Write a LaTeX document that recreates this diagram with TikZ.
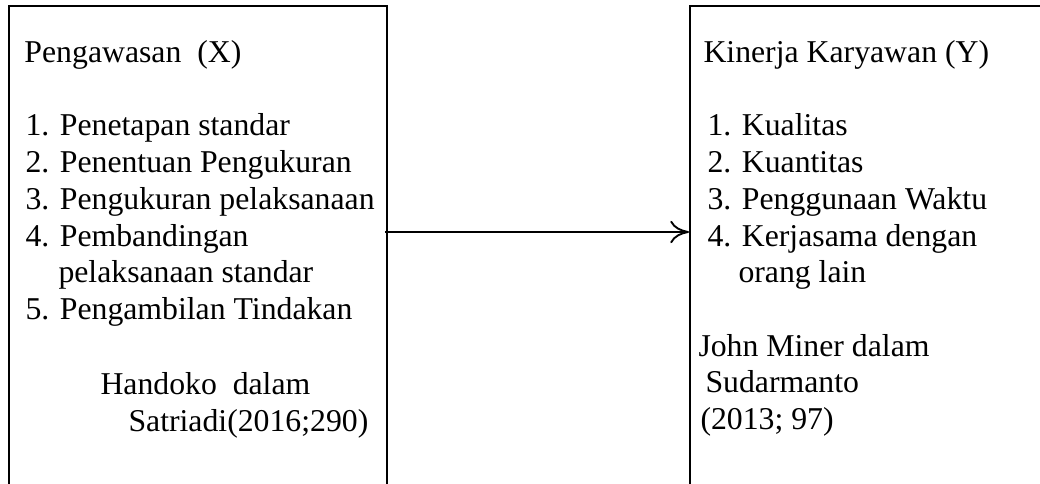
\documentclass[tikz,border=0pt]{standalone}
\usepackage{fontspec}
\setmainfont{Liberation Serif}
\usetikzlibrary{arrows.meta}
\tikzset{
  txt/.style={anchor=base west, inner sep=0pt, font=\fontsize{12.7}{15}\selectfont},
  boxline/.style={line width=0.85pt},
  conn/.style={line width=0.75pt, -{To[length=7.5pt, width=9pt, line width=0.75pt]}}
}
\begin{document}
\begin{tikzpicture}[x=0.4pt, y=-0.4pt]
\useasboundingbox (0,0) rectangle (1040,484);
% left box (open at the bottom)
\coordinate (lbl) at (9,490);
\coordinate (ltl) at (9,6);
\coordinate (ltr) at (387,6);
\coordinate (lbr) at (387,490);
\draw[boxline] (lbl) -- (ltl) -- (ltr) -- (lbr);
% right box (open at the bottom, right side beyond picture)
\coordinate (rbl) at (690,490);
\coordinate (rtl) at (690,6);
\coordinate (rtr) at (1045,6);
\draw[boxline] (rbl) -- (rtl) -- (rtr);
% left texts
\node[txt] (lh) at (24,63) {Pengawasan\ \ (X)};
\node[txt] (l1) at (25,136) {1. Penetapan standar};
\node[txt] (l2) at (25,173) {2. Penentuan Pengukuran};
\node[txt] (l3) at (25,210) {3. Pengukuran pelaksanaan};
\node[txt] (l4) at (25,247) {4. Pembandingan};
\node[txt] (l4b) at (58,283) {pelaksanaan standar};
\node[txt] (l5) at (25,320) {5. Pengambilan Tindakan};
\node[txt] (ls1) at (100,395) {Handoko\ \ dalam};
\node[txt] (ls2) at (128,432) {Satriadi(2016;290)};
% right texts
\node[txt] (rh) at (703,63) {Kinerja Karyawan (Y)};
\node[txt] (r1) at (707,136) {1. Kualitas};
\node[txt] (r2) at (707,173) {2. Kuantitas};
\node[txt] (r3) at (707,210) {3. Penggunaan Waktu};
\node[txt] (r4) at (707,247) {4. Kerjasama dengan};
\node[txt] (r4b) at (738,283) {orang lain};
\node[txt] (rs1) at (698,357) {John Miner dalam};
\node[txt] (rs2) at (705,393) {Sudarmanto};
\node[txt] (rs3) at (700,430) {(2013; 97)};
% connector
\coordinate (ao) at (385,232);
\coordinate (ai) at (689,232);
\draw[conn] (ao) -- (ai);
\end{tikzpicture}
\end{document}
